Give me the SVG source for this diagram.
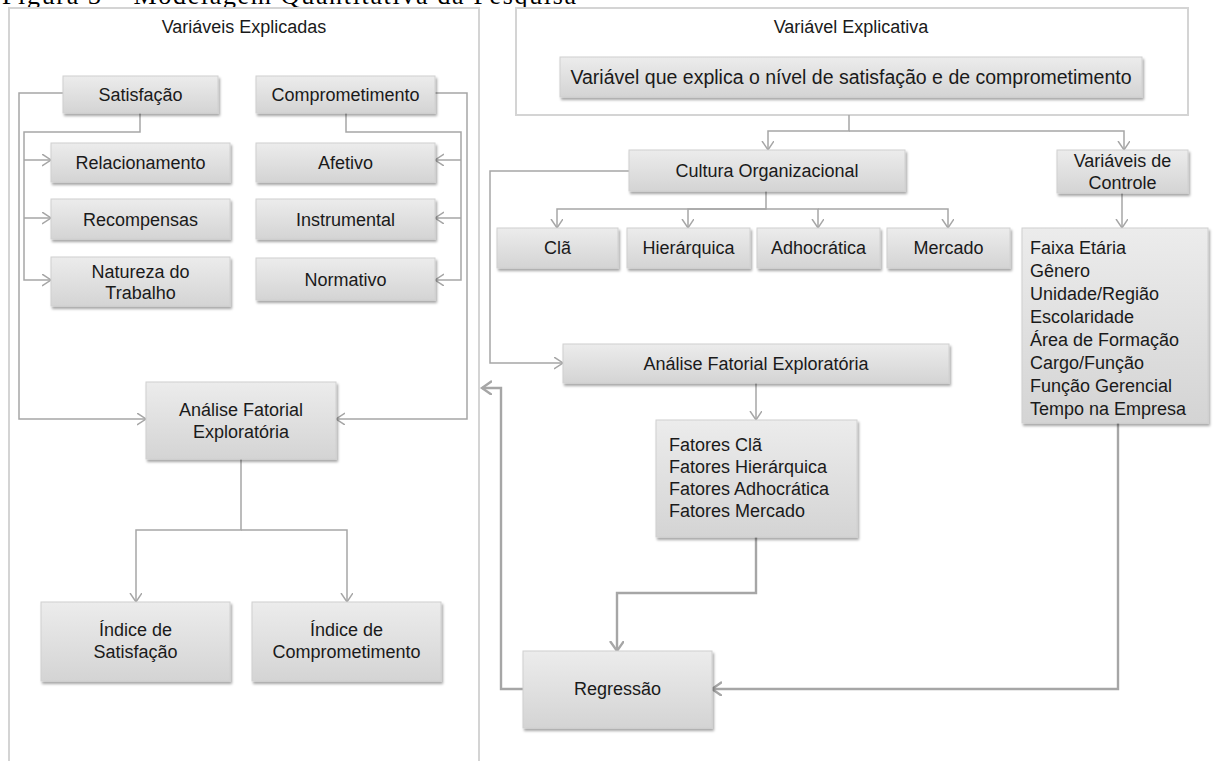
<svg xmlns="http://www.w3.org/2000/svg" width="1214" height="761" viewBox="0 0 1214 761">
<defs>
<linearGradient id="g" x1="0" y1="0" x2="0" y2="1">
<stop offset="0" stop-color="#ececec"/>
<stop offset="1" stop-color="#d4d4d4"/>
</linearGradient>
<filter id="sh" x="-10%" y="-10%" width="130%" height="140%">
<feDropShadow dx="1.5" dy="2.5" stdDeviation="1.2" flood-color="#000" flood-opacity="0.35"/>
</filter>
<marker id="a" markerUnits="userSpaceOnUse" markerWidth="14" markerHeight="14" refX="9" refY="6" orient="auto">
<path d="M0,0 L9,6 L0,12" fill="none" stroke="#a6a6a6" stroke-width="1.5"/>
</marker>
<marker id="a2" markerUnits="userSpaceOnUse" markerWidth="16" markerHeight="16" refX="10" refY="7" orient="auto">
<path d="M0,0 L10,7 L0,14" fill="none" stroke="#a6a6a6" stroke-width="2.4"/>
</marker>
<style>
.box{fill:url(#g);stroke:#d0d0d0;stroke-width:1;filter:url(#sh)}
.panel{fill:#fff;stroke:#d4d4d4;stroke-width:2}
.t{font-family:"Liberation Sans",Arial,sans-serif;font-size:18px;fill:#1a1a1a;text-anchor:middle}
.tl{font-family:"Liberation Sans",Arial,sans-serif;font-size:18px;fill:#1a1a1a}
.big{font-size:19.5px}
.cap{font-family:"Liberation Serif","Times New Roman",serif;font-size:26px;fill:#000}
.c{fill:none;stroke:#a6a6a6;stroke-width:1.5}
.c2{fill:none;stroke:#a6a6a6;stroke-width:2.4}
</style>
</defs>
<rect width="1214" height="761" fill="#fff"/>

<text class="cap" x="2" y="4" textLength="574" lengthAdjust="spacing">Figura 3 – Modelagem Quantitativa da Pesquisa</text>

<g id="panel-explicadas">
<rect class="panel" x="9" y="8" width="470" height="770"/>
<text class="t" x="244" y="33">Variáveis Explicadas</text>
</g>
<g id="panel-explicativa">
<rect class="panel" x="516" y="8" width="672" height="107"/>
<text class="t" x="851" y="33">Variável Explicativa</text>
</g>

<g id="connectors">
<path class="c" d="M63,93 H19 V419 H146" marker-end="url(#a)"/>
<path class="c" d="M140,113 V132 H24 V280 H51" marker-end="url(#a)"/>
<path class="c" d="M24,160 H51" marker-end="url(#a)"/>
<path class="c" d="M24,218 H51" marker-end="url(#a)"/>
<path class="c" d="M435,93 H467 V419 H336" marker-end="url(#a)"/>
<path class="c" d="M346,113 V132 H461 V280 H435" marker-end="url(#a)"/>
<path class="c" d="M461,160 H435" marker-end="url(#a)"/>
<path class="c" d="M461,218 H435" marker-end="url(#a)"/>
<path class="c" d="M241,459 V530 H136 V602" marker-end="url(#a)"/>
<path class="c" d="M241,530 H347 V602" marker-end="url(#a)"/>
<path class="c" d="M849,115 V131 H768 V150" marker-end="url(#a)"/>
<path class="c" d="M849,131 H1124 V150" marker-end="url(#a)"/>
<path class="c" d="M629,171 H490 V363 H563" marker-end="url(#a)"/>
<path class="c" d="M766,191 V209 H557 V228" marker-end="url(#a)"/>
<path class="c" d="M766,209 H688 V228" marker-end="url(#a)"/>
<path class="c" d="M766,209 H818 V228" marker-end="url(#a)"/>
<path class="c" d="M818,209 H948 V228" marker-end="url(#a)"/>
<path class="c" d="M1122,193 V228" marker-end="url(#a)"/>
<path class="c" d="M756,383 V420" marker-end="url(#a)"/>
<path class="c2" d="M756,537 V593 H617 V651" marker-end="url(#a2)"/>
<path class="c2" d="M523,689 H501 V388 H482" marker-end="url(#a2)"/>
<path class="c2" d="M1118,423 V689 H712" marker-end="url(#a2)"/>
</g>

<g id="satisfacao"><rect class="box" x="63" y="76" width="155" height="37"/><text class="t" x="140.5" y="101">Satisfação</text></g>
<g id="comprometimento"><rect class="box" x="256" y="76" width="179" height="37"/><text class="t" x="345.5" y="101">Comprometimento</text></g>
<g id="relacionamento"><rect class="box" x="51" y="143" width="179" height="39"/><text class="t" x="140.5" y="169">Relacionamento</text></g>
<g id="afetivo"><rect class="box" x="256" y="143" width="179" height="39"/><text class="t" x="345.5" y="169">Afetivo</text></g>
<g id="recompensas"><rect class="box" x="51" y="199" width="179" height="40"/><text class="t" x="140.5" y="225.5">Recompensas</text></g>
<g id="instrumental"><rect class="box" x="256" y="199" width="179" height="40"/><text class="t" x="345.5" y="225.5">Instrumental</text></g>
<g id="natureza"><rect class="box" x="51" y="257" width="179" height="49"/><text class="t" x="140.5" y="278">Natureza do</text><text class="t" x="140.5" y="299">Trabalho</text></g>
<g id="normativo"><rect class="box" x="256" y="258" width="179" height="42"/><text class="t" x="345.5" y="285.5">Normativo</text></g>
<g id="afe-esq"><rect class="box" x="146" y="382" width="190" height="77"/><text class="t" x="241" y="416">Análise Fatorial</text><text class="t" x="241" y="438">Exploratória</text></g>
<g id="indice-satisfacao"><rect class="box" x="41" y="602" width="189" height="79"/><text class="t" x="135.5" y="636">Índice de</text><text class="t" x="135.5" y="658">Satisfação</text></g>
<g id="indice-comprometimento"><rect class="box" x="252" y="602" width="189" height="79"/><text class="t" x="346.5" y="636">Índice de</text><text class="t" x="346.5" y="658">Comprometimento</text></g>

<g id="variavel-explica"><rect class="box" x="560" y="57" width="582" height="40"/><text class="t big" x="851" y="84">Variável que explica o nível de satisfação e de comprometimento</text></g>
<g id="cultura"><rect class="box" x="629" y="150" width="276" height="41"/><text class="t" x="767" y="177">Cultura Organizacional</text></g>
<g id="variaveis-controle"><rect class="box" x="1057" y="150" width="131" height="43"/><text class="t" x="1122.5" y="167">Variáveis de</text><text class="t" x="1122.5" y="189">Controle</text></g>
<g id="cla"><rect class="box" x="497" y="228" width="121" height="40"/><text class="t" x="557.5" y="254">Clã</text></g>
<g id="hierarquica"><rect class="box" x="627" y="228" width="123" height="40"/><text class="t" x="688.5" y="254">Hierárquica</text></g>
<g id="adhocratica"><rect class="box" x="757" y="228" width="123" height="40"/><text class="t" x="818.5" y="254">Adhocrática</text></g>
<g id="mercado"><rect class="box" x="887" y="228" width="123" height="40"/><text class="t" x="948.5" y="254">Mercado</text></g>
<g id="afe-dir"><rect class="box" x="563" y="344" width="386" height="39"/><text class="t" x="756" y="370">Análise Fatorial Exploratória</text></g>
<g id="fatores"><rect class="box" x="656" y="420" width="201" height="117"/>
<text class="tl" x="669" y="451">Fatores Clã</text>
<text class="tl" x="669" y="473">Fatores Hierárquica</text>
<text class="tl" x="669" y="495">Fatores Adhocrática</text>
<text class="tl" x="669" y="517">Fatores Mercado</text></g>
<g id="controles"><rect class="box" x="1022" y="228" width="186" height="195"/>
<text class="tl" x="1030" y="254">Faixa Etária</text>
<text class="tl" x="1030" y="277">Gênero</text>
<text class="tl" x="1030" y="300">Unidade/Região</text>
<text class="tl" x="1030" y="323">Escolaridade</text>
<text class="tl" x="1030" y="346">Área de Formação</text>
<text class="tl" x="1030" y="369">Cargo/Função</text>
<text class="tl" x="1030" y="392">Função Gerencial</text>
<text class="tl" x="1030" y="415">Tempo na Empresa</text></g>
<g id="regressao"><rect class="box" x="523" y="651" width="189" height="77"/><text class="t" x="617.5" y="695">Regressão</text></g>
</svg>
